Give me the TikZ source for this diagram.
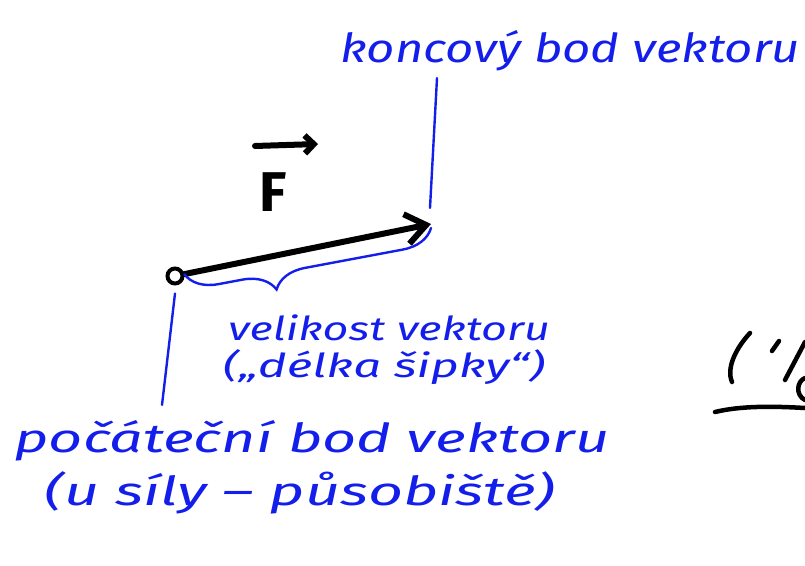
\documentclass[tikz,border=0pt]{standalone}
\usepackage{fontspec}
\setmainfont{Fira Sans}
\usetikzlibrary{arrows.meta,decorations.pathreplacing}
\definecolor{inkblue}{RGB}{20,30,235}
\newcommand{\wide}[2]{\resizebox{#1}{\height}{#2}}
\tikzset{
  note/.style={text=inkblue, font=\fontsize{40}{44}\selectfont\itshape, inner sep=0pt, anchor=base},
  small note/.style={note, font=\fontsize{33}{36}\selectfont\itshape},
  pointer/.style={draw=inkblue, line width=2.4pt, line cap=round},
  force/.style={line width=6pt, line cap=round, line join=round, -{Straight Barb[length=20pt,width=30pt]}},
  stroke/.style={line width=4.5pt, line cap=round, line join=round},
}
\begin{document}
\begin{tikzpicture}[x=1pt,y=-1pt]
\useasboundingbox (0,0) rectangle (805,565);
% the vector
\node[circle, draw, line width=4pt, minimum size=15pt, inner sep=0pt] (start) at (175,276) {};
\coordinate (tip) at (431,224);
\draw[force] (start) -- (tip);
\node[font=\fontsize{56}{60}\selectfont\bfseries, anchor=base, inner sep=0pt] (F) at (273,211) {F};
\draw[force, -{Straight Barb[length=9pt,width=18pt]}] ([xshift=-18pt,yshift=26pt]F.north) -- ++(63,-2);
% labels
\node[note] (koncovy) at (570,62) {\wide{460pt}{koncový bod vektoru}};
\node[small note] (velikost) at (389,340) {\wide{322pt}{velikost vektoru}};
\node[small note] (delka) at (384,377) {\wide{322pt}{(„délka šipky“)}};
\node[note] (pocatek) at (312,452) {\wide{595pt}{počáteční bod vektoru}};
\node[note] (pusobiste) at (300,505) {\wide{510pt}{(u síly – působiště)}};
% pointers
\coordinate (kfoot) at (437,78);
\coordinate (kend) at (430,208);
\draw[pointer] (kfoot) -- (kend);
\coordinate (pfoot) at (162,405);
\draw[pointer] ([yshift=-8pt]start.south) -- (pfoot);
\draw[pointer, decorate, decoration={brace, amplitude=32pt, aspect=0.65}] ([yshift=-4pt]tip) -- ([xshift=10pt,yshift=-8pt]start);
% cut-off formula on the right
\draw[stroke] (750,333) .. controls (736,348) and (726,368) .. (732,382);
\draw[stroke] (779,341) -- (772,351);
\draw[stroke] (805,342) -- (785,380);
\draw[stroke] (805,378) .. controls (797,381) and (795,395) .. (805,400);
\draw[stroke] (715,412) .. controls (740,406) and (770,406) .. (805,408);
\end{tikzpicture}
\end{document}
